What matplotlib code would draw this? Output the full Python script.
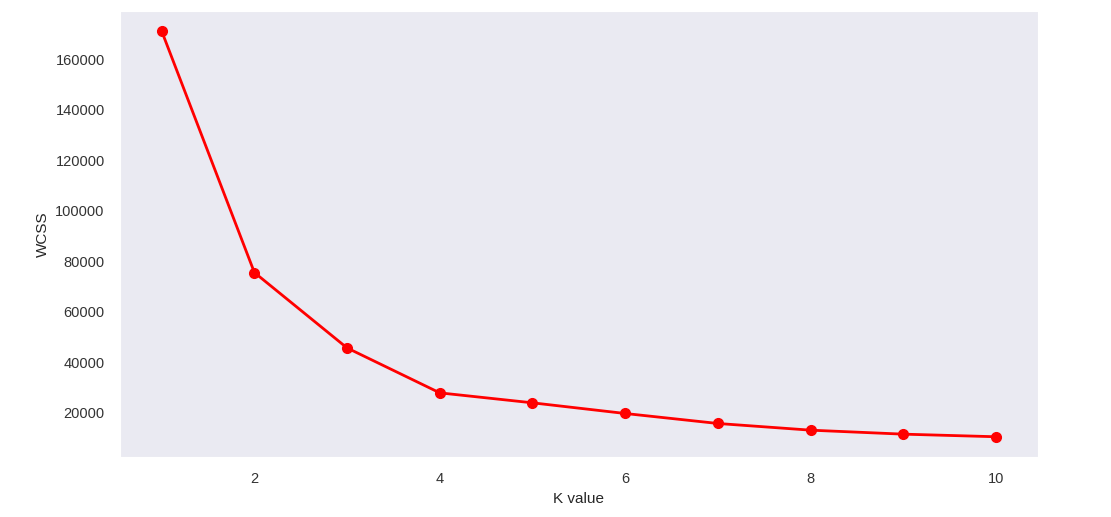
import matplotlib
matplotlib.use('Agg')
import matplotlib.pyplot as plt
import seaborn as sns

k_values = [1, 2, 3, 4, 5, 6, 7, 8, 9, 10]
wcss = [171200, 75500, 45600, 27800, 23850, 19620, 15660, 13010, 11430, 10400]

sns.set_style('dark')
plt.rcParams['font.family'] = ['Liberation Sans', 'DejaVu Sans']

fig = plt.figure(figsize=(11.11, 5.17), dpi=100)
ax = fig.add_axes([0.108, 0.116, 0.826, 0.863])
ax.plot(k_values, wcss, marker='o', color='red', linewidth=2, markersize=7)
ax.set_xlabel('K value', fontsize=11)
ax.set_ylabel('WCSS', fontsize=11)
ax.tick_params(labelsize=10.5, pad=7.5, colors='#333333')
fig.savefig('out.png', dpi=100)
